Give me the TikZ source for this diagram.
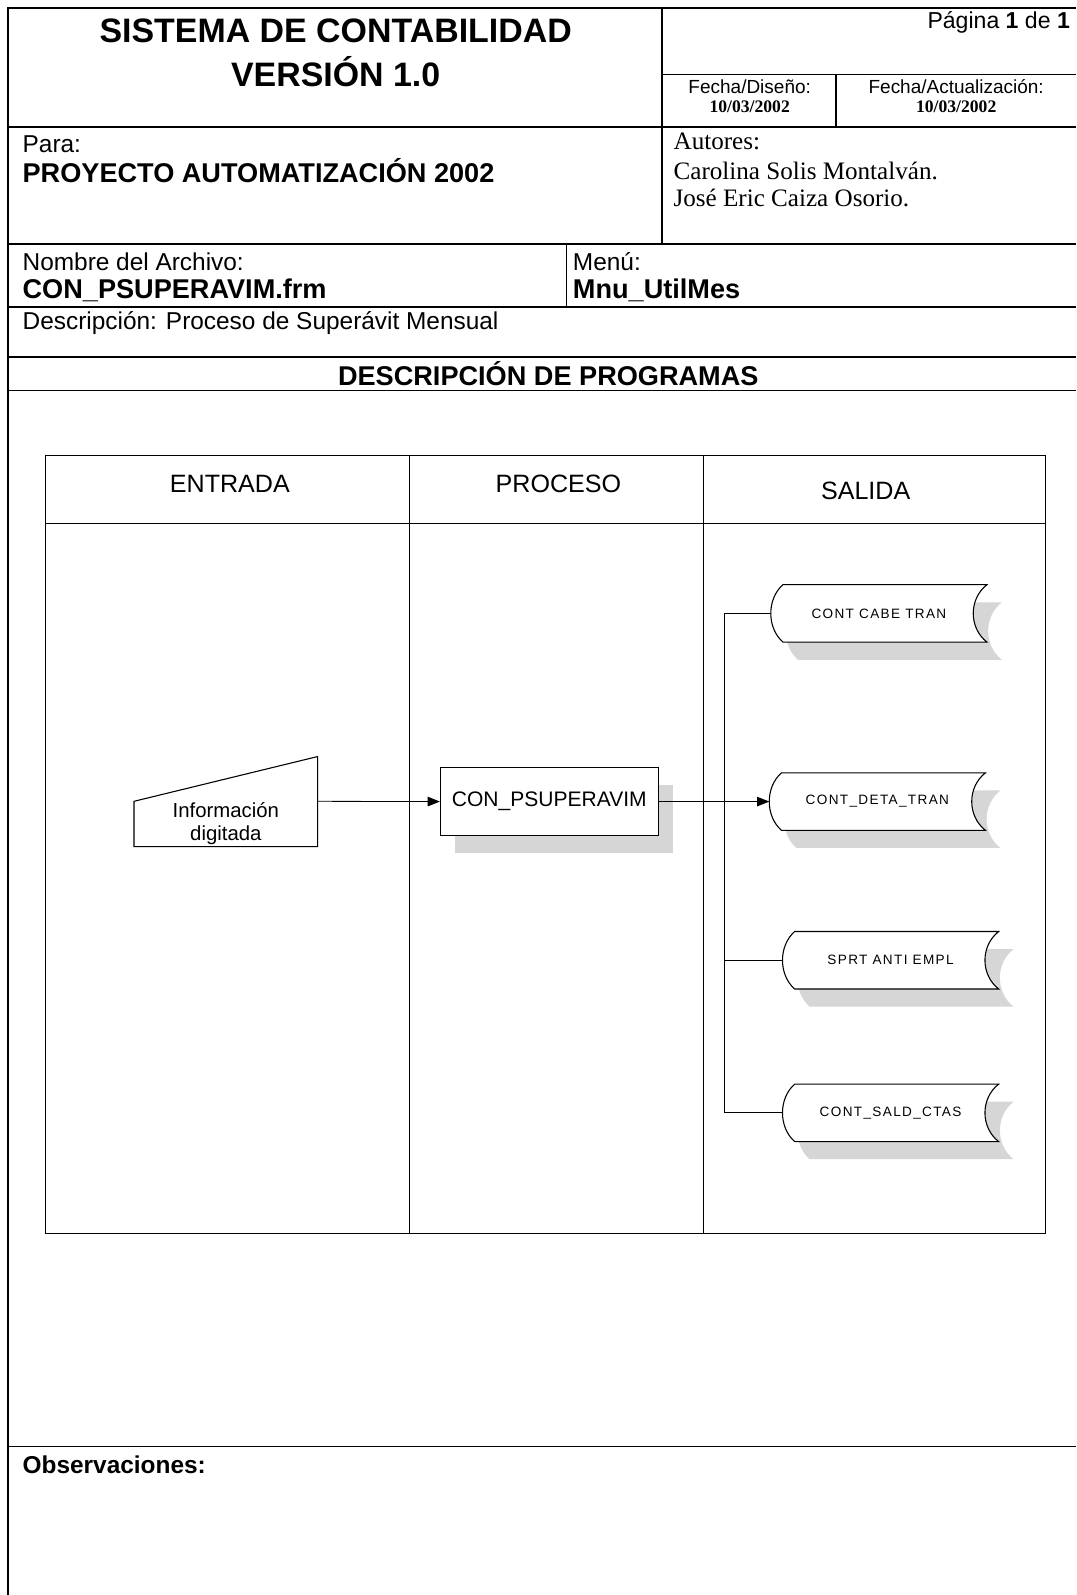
\documentclass[tikz,border=0pt]{standalone}
\usepackage{fontspec}
\setmainfont{Liberation Sans}
\newfontfamily\serifa{Liberation Serif}
\newfontfamily\cintafont[LetterSpace=10]{Liberation Sans}
\usetikzlibrary{arrows.meta,shadows,backgrounds}

\begin{document}
\begin{tikzpicture}[x=0.75pt,y=0.75pt]
    \tikzstyle{every node}+=[inner sep=0pt]
    \tikzstyle{marco}=[black, line width=1.1pt]
    \tikzstyle{linea}=[black, line width=0.8pt]
    \tikzstyle{conector}=[black, line width=0.6pt]
    \tikzstyle{flecha}=[conector, -{Triangle[length=9pt,width=7pt]}]
    \tikzstyle{sombra}=[drop shadow={shadow xshift=11pt, shadow yshift=-13pt, fill=gray!32, opacity=1}]
    \tikzstyle{titulo}=[font=\bfseries\fontsize{25}{30}\selectfont]
    \tikzstyle{rotulo}=[right, font=\fontsize{18}{21}\selectfont]
    \tikzstyle{negrita}=[right, font=\bfseries\fontsize{20}{24}\selectfont]
    \tikzstyle{autor}=[right, font=\serifa\fontsize{18.5}{22}\selectfont]
    \tikzstyle{fecha}=[font=\fontsize{14}{16}\selectfont]
    \tikzstyle{fechaval}=[font=\serifa\bfseries\fontsize{13}{15}\selectfont]
    \tikzstyle{columna}=[font=\fontsize{18.5}{22}\selectfont]
    \tikzstyle{entrada}=[align=center, minimum width=135pt, minimum height=33pt, font=\fontsize{15}{17}\selectfont]
    \tikzstyle{proceso}=[draw, linea, fill=white, sombra, minimum width=160.5pt, minimum height=50pt, font=\fontsize{15.5}{18}\selectfont]
    \tikzstyle{cinta}=[minimum width=159pt, minimum height=42pt, font=\cintafont\fontsize{10}{12}\selectfont]
    \useasboundingbox (0,0) rectangle (1058,-1568);
    \draw [marco] (8,-1568) -- (8,-8) -- (1058,-8);
    \draw [marco] (651,-8) -- (651,-240);
    \draw [marco] (651,-73) -- (1058,-73);
    \draw [marco] (822,-73) -- (822,-125);
    \draw [marco] (8,-125) -- (1058,-125);
    \draw [marco] (8,-240) -- (1058,-240);
    \draw [marco] (557,-240) -- (557,-302);
    \draw [marco] (8,-302) -- (1058,-302);
    \draw [marco] (8,-351) -- (1058,-351);
    \draw [marco] (8,-384) -- (1058,-384);
    \draw [marco] (8,-1422) -- (1058,-1422);
    \draw (330,-30) node [titulo] (sistema) {SISTEMA DE CONTABILIDAD};
    \draw (330,-70) node [titulo] (version) {VERSIÓN 1.0};
    \draw (1052,-22) node [left, font=\fontsize{17}{20}\selectfont] (pagina) {Página \textbf{1} de \textbf{1}};
    \draw (737,-85) node [fecha] (fdiseno) {Fecha/Diseño:};
    \draw (737,-105) node [fechaval] (fdisenoval) {10/03/2002};
    \draw (940,-85) node [fecha] (factual) {Fecha/Actualización:};
    \draw (940,-105) node [fechaval] (factualval) {10/03/2002};
    \draw (22,-142) node [rotulo] (para) {Para:};
    \draw (22,-168) node [negrita] (proyecto) {PROYECTO AUTOMATIZACIÓN 2002};
    \draw (662,-139) node [autor] (autores) {Autores:};
    \draw (662,-168) node [autor] (autor1) {Carolina Solis Montalván.};
    \draw (662,-195) node [autor] (autor2) {José Eric Caiza Osorio.};
    \draw (22,-257) node [rotulo] (nombre) {Nombre del Archivo:};
    \draw (22,-285) node [negrita] (archivo) {CON\_PSUPERAVIM.frm};
    \draw (563,-257) node [rotulo] (menu) {Menú:};
    \draw (563,-285) node [negrita] (menuval) {Mnu\_UtilMes};
    \draw (22,-318) node [rotulo] (descripcion) {Descripción: Proceso de Superávit Mensual};
    \draw (539,-367) node [titulo, font=\bfseries\fontsize{20}{24}\selectfont] (programas) {DESCRIPCIÓN DE PROGRAMAS};
    \draw (22,-1440) node [negrita, font=\bfseries\fontsize{18}{21}\selectfont] (observaciones) {Observaciones:};
    \draw [linea] (45,-448) rectangle (1028,-1213);
    \draw [linea] (45,-515) -- (1028,-515);
    \draw [linea] (403,-448) -- (403,-1213);
    \draw [linea] (692,-448) -- (692,-1213);
    \draw (226,-476) node [columna] (colentrada) {ENTRADA};
    \draw (549,-476) node [columna] (colproceso) {PROCESO};
    \draw (851,-483) node [columna] (colsalida) {SALIDA};
    \draw (222,-810) node [entrada] (info) {Información\\digitada};
    \draw (540,-788) node [proceso] (proc) {CON\_PSUPERAVIM};
    \draw (864,-603) node [cinta] (cabe) {CONT CABE TRAN};
    \draw (862.5,-788) node [cinta] (deta) {CONT\_DETA\_TRAN};
    \draw (875.5,-944) node [cinta] (sprt) {SPRT ANTI EMPL};
    \draw (875.5,-1094) node [cinta] (sald) {CONT\_SALD\_CTAS};
    \begin{pgfonlayer}{background}
    \foreach \n in {cabe,deta,sprt,sald}
      \draw [linea, fill=white, sombra] ([xshift=9pt]\n.north west) -- (\n.north east) .. controls +(-18,-14) and +(-18,14) .. (\n.south east) -- ([xshift=9pt]\n.south west) .. controls +(-16,14) and +(-16,-14) .. ([xshift=9pt]\n.north west) -- cycle;
    \draw [linea] (info.south west) -- (info.north west) -- ([yshift=33pt]info.north east) -- (info.south east) -- cycle;
    \end{pgfonlayer}
    \coordinate (bus) at (712,-944);
    \draw [flecha] (info.north east) -- (proc.west);
    \draw [flecha] (proc.east) -- (deta.west);
    \draw [conector] (cabe.west) -- (cabe.west -| bus) -- (sald.west -| bus) -- (sald.west);
    \draw [conector] (sprt.west) -- (bus);
\end{tikzpicture}
\end{document}
